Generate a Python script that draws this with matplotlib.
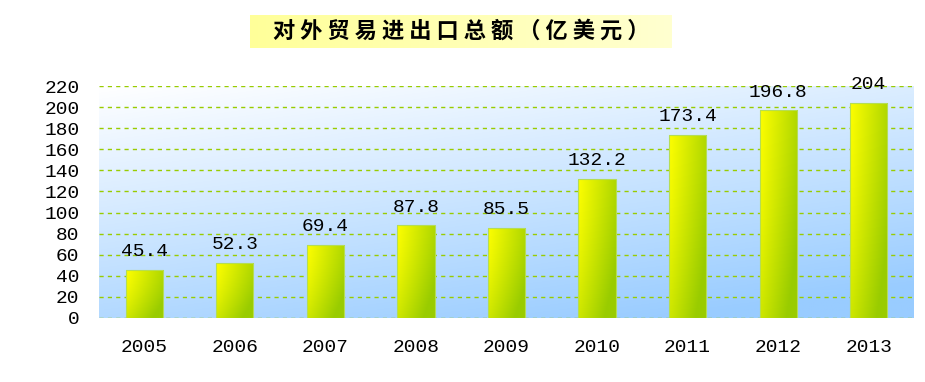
import numpy as np
import matplotlib
matplotlib.use("Agg")
import matplotlib.pyplot as plt
from matplotlib.colors import LinearSegmentedColormap

years = ["2005", "2006", "2007", "2008", "2009", "2010", "2011", "2012", "2013"]
values = [45.4, 52.3, 69.4, 87.8, 85.5, 132.2, 173.4, 196.8, 204]
labels = ["45.4", "52.3", "69.4", "87.8", "85.5", "132.2", "173.4", "196.8", "204"]
yticks = list(range(0, 221, 20))
title = "对外贸易进出口总额（亿美元）"

plt.rcParams['font.family'] = ['Noto Sans CJK SC', 'DejaVu Sans']
numfont = ['Liberation Mono', 'DejaVu Sans Mono']

fig = plt.figure(figsize=(9.25, 3.82), dpi=100)
fig.patch.set_facecolor('white')

# title box with gradient
tax = fig.add_axes([250/925, 1-48/382, (672-250)/925, 33/382])
tgrad = np.linspace(0, 1, 256).reshape(1, -1)
tcmap = LinearSegmentedColormap.from_list('t', ['#ffff99', '#ffffd0'])
tax.imshow(tgrad, aspect='auto', cmap=tcmap, extent=[0, 1, 0, 1])
tax.set_axis_off()
tax.text(0.5, 0.5, " ".join(title), ha='center', va='center', fontsize=16,
         fontweight='bold', transform=tax.transAxes, color='black')

ax = fig.add_axes([99/925, 1-318/382, (914-99)/925, (318-86)/382])
x = np.arange(len(years))
ax.set_xlim(-0.5, len(years)-0.5)
ax.set_ylim(0, 220)

# background gradient (white top-left to light blue bottom-right)
h, w = 200, 400
yy, xx = np.mgrid[0:1:h*1j, 0:1:w*1j]
t = np.clip(0.75*yy + 0.35*xx, 0, 1)
c0 = np.array([1.0, 1.0, 1.0])
c1 = np.array([0.60, 0.80, 1.0])
bg = c0[None, None, :]*(1-t[..., None]) + c1[None, None, :]*t[..., None]
ax.imshow(bg, aspect='auto', extent=[-0.5, len(years)-0.5, 0, 220], zorder=0, origin='upper')

for yv in yticks:
    ax.axhline(yv, color='#99cc00', linestyle=(0, (3, 3)), linewidth=1, zorder=1)

bw = 0.41
bars = ax.bar(x, values, width=bw, color='none', edgecolor='#b5dd55', linewidth=0.8, zorder=3)

# bar gradient: yellow highlight at top-left, green toward right and bottom
gh, gw = 120, 60
gy, gx = np.mgrid[0:1:gh*1j, 0:1:gw*1j]
s = np.clip(0.02 + 0.75*gx + 0.45*gy**1.5, 0, 1)
cy = np.array([1.0, 1.0, 0.0])
cg = np.array([0.60, 0.80, 0.0])
img = cy[None, None, :]*(1-s[..., None]) + cg[None, None, :]*s[..., None]
for b in bars:
    bx, by = b.get_x(), b.get_y()
    bwid, bht = b.get_width(), b.get_height()
    im = ax.imshow(img, aspect='auto', extent=[bx, bx+bwid, by, by+bht],
                   zorder=2, origin='upper')
    im.set_clip_path(b)

for xi, v, lab in zip(x, values, labels):
    ax.annotate(lab, (xi, v), xytext=(0, 7), textcoords='offset points',
                ha='center', va='bottom', fontsize=14, family=numfont, zorder=5)

ax.set_yticks(yticks)
ax.set_yticklabels([str(v) for v in yticks], family=numfont, fontsize=14)
ax.set_xticks(x)
ax.set_xticklabels(years, family=numfont, fontsize=14)
ax.tick_params(axis='both', length=0)
ax.tick_params(axis='y', pad=14)
ax.tick_params(axis='x', pad=15)
for sp in ax.spines.values():
    sp.set_visible(False)

fig.savefig('out.png', dpi=100)
